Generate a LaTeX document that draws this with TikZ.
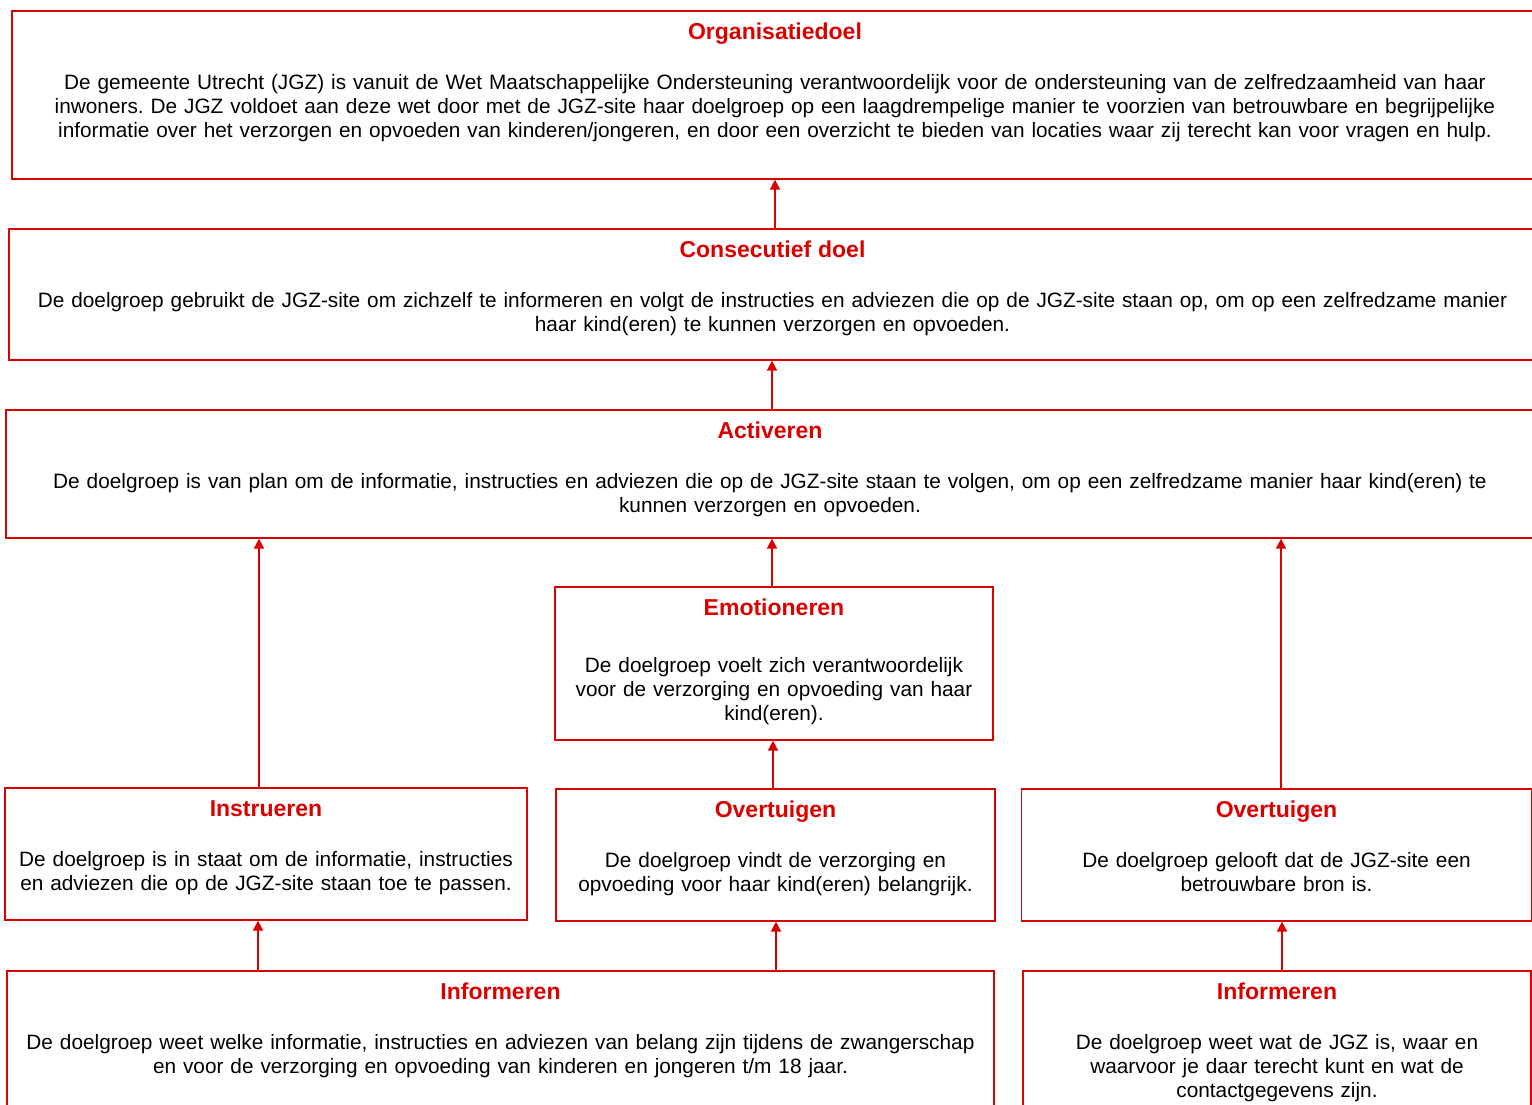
\documentclass[tikz,border=0pt]{standalone}
\usepackage{fontspec}
\setmainfont{Liberation Sans}
\usepackage{xcolor}
\usetikzlibrary{arrows.meta}
\definecolor{jgzred}{RGB}{218,0,0}
\newcommand{\boxtitle}[1]{{\fontsize{11.5}{12}\selectfont\bfseries\color{jgzred}#1}}
\frenchspacing
\tikzset{
  goalbox/.style={rectangle,
      draw=jgzred,
      line width=0.8pt,
      anchor=north,
      inner sep=0pt,
      align=center,
      font=\fontsize{10.4}{12}\selectfont,
      text height=14.5pt},
  goalarrow/.style={draw=jgzred, line width=0.8pt, -{Triangle[length=5pt,width=5pt]}}
}
\begin{document}
\begin{tikzpicture}[x=0.5pt,y=-0.5pt]
\path[use as bounding box, clip] (0,0) rectangle (1532,1104);
\fill[white] (0,0) rectangle (1532,1104);

\node[goalbox, minimum width=763pt, text width=760pt, text depth=69.5pt] (org) at (775,10)
{\boxtitle{Organisatiedoel}\\[13pt]
De gemeente Utrecht (JGZ) is vanuit de Wet Maatschappelijke Ondersteuning verantwoordelijk voor de ondersteuning van de zelfredzaamheid van haar\\
inwoners. De JGZ voldoet aan deze wet door met de JGZ-site haar doelgroep op een laagdrempelige manier te voorzien van betrouwbare en begrijpelijke\\
informatie over het verzorgen en opvoeden van kinderen/jongeren, en door een overzicht te bieden van locaties waar zij terecht kan voor vragen en hulp.};

\node[goalbox, minimum width=763.5pt, text width=760pt, text depth=51pt] (consec) at (772.5,228)
{\boxtitle{Consecutief doel}\\[13pt]
De doelgroep gebruikt de JGZ-site om zichzelf te informeren en volgt de instructies en adviezen die op de JGZ-site staan op, om op een zelfredzame manier\\
haar kind(eren) te kunnen verzorgen en opvoeden.};

\node[goalbox, minimum width=764pt, text width=760pt, text depth=49.5pt] (act) at (770,409)
{\boxtitle{Activeren}\\[13pt]
De doelgroep is van plan om de informatie, instructies en adviezen die op de JGZ-site staan te volgen, om op een zelfredzame manier haar kind(eren) te\\
kunnen verzorgen en opvoeden.};

\node[goalbox, minimum width=219pt, text width=215pt, text depth=62pt] (emo) at (774,586)
{\boxtitle{Emotioneren}\\[16.5pt]
De doelgroep voelt zich verantwoordelijk\\
voor de verzorging en opvoeding van haar\\
kind(eren).};

\node[goalbox, minimum width=261pt, text width=258pt, text depth=51.5pt] (instr) at (266,787)
{\boxtitle{Instrueren}\\[13pt]
De doelgroep is in staat om de informatie, instructies\\
en adviezen die op de JGZ-site staan toe te passen.};

\node[goalbox, minimum width=219.5pt, text width=216pt, text depth=51.5pt] (overM) at (775.5,788)
{\boxtitle{Overtuigen}\\[13pt]
De doelgroep vindt de verzorging en\\
opvoeding voor haar kind(eren) belangrijk.};

\node[goalbox, minimum width=255pt, text width=250pt, text depth=51.5pt] (overR) at (1276.5,788)
{\boxtitle{Overtuigen}\\[13pt]
De doelgroep gelooft dat de JGZ-site een\\
betrouwbare bron is.};

\node[goalbox, minimum width=493.5pt, text width=490pt, text depth=90pt] (infoL) at (500.5,970)
{\boxtitle{Informeren}\\[13pt]
De doelgroep weet welke informatie, instructies en adviezen van belang zijn tijdens de zwangerschap\\
en voor de verzorging en opvoeding van kinderen en jongeren t/m 18 jaar.};

\node[goalbox, minimum width=254pt, text width=250pt, text depth=90pt] (infoR) at (1277,970)
{\boxtitle{Informeren}\\[13pt]
De doelgroep weet wat de JGZ is, waar en\\
waarvoor je daar terecht kunt en wat de\\
contactgegevens zijn.};

\draw[goalarrow] (consec.north -| org.south) -- (org.south);
\draw[goalarrow] ([xshift=1pt]act.north) -- ([xshift=1pt]act.north |- consec.south);
\draw[goalarrow] ([xshift=-3.5pt]instr.north) -- ([xshift=-3.5pt]instr.north |- act.south);
\draw[goalarrow] ([xshift=-1pt]emo.north) -- ([xshift=-1pt]emo.north |- act.south);
\draw[goalarrow] ([xshift=2.25pt]overR.north) -- ([xshift=2.25pt]overR.north |- act.south);
\draw[goalarrow] ([xshift=-1.25pt]overM.north) -- ([xshift=-1.25pt]overM.north |- emo.south);
\draw[goalarrow] ([xshift=-4pt]infoL.north -| instr.south) -- ([xshift=-4pt]instr.south);
\draw[goalarrow] ([xshift=0.25pt]infoL.north -| overM.south) -- ([xshift=0.25pt]overM.south);
\draw[goalarrow] ([xshift=2.5pt]infoR.north) -- ([xshift=2.5pt]infoR.north |- overR.south);
\end{tikzpicture}
\end{document}
